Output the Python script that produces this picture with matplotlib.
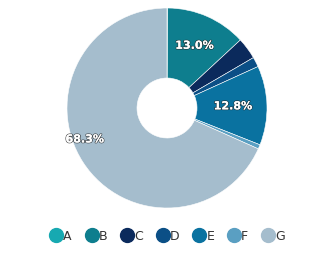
import numpy as np
import matplotlib
matplotlib.use("Agg")
import matplotlib.pyplot as plt
import matplotlib.patheffects as pe
from matplotlib.lines import Line2D

labels = ["A", "B", "C", "D", "E", "F", "G"]
values = [0.1, 13.0, 3.5, 1.6, 12.8, 0.7, 68.3]
colors = ["#17a9b1", "#0e7e8e", "#0b2a5c", "#0b4f86", "#0a72a0", "#5a9fc2", "#a5bdcd"]

fig = plt.figure(figsize=(3.35, 2.54), dpi=100)
ax = fig.add_axes([67 / 335, 46 / 254, 200 / 335, 200 / 254])
wedges, _ = ax.pie(values, colors=colors, startangle=90, counterclock=False,
                   wedgeprops=dict(width=0.7, edgecolor="white", linewidth=0.4))
ax.set_xlim(-1, 1); ax.set_ylim(-1, 1); ax.set_aspect("equal")

# percentage labels only for the big slices
lab_r = {1: 0.68, 4: 0.66, 6: 0.88}
lab_shift = {6: 12}
for i, w in enumerate(wedges):
    if values[i] < 10:
        continue
    th = np.deg2rad((w.theta1 + w.theta2) / 2 - lab_shift.get(i, 0))
    r = lab_r.get(i, 0.68)
    ax.text(r * np.cos(th), r * np.sin(th), f"{values[i]:.1f}%", ha="center", va="center",
            color="white", fontsize=8, fontweight="bold",
            path_effects=[pe.withStroke(linewidth=1.1, foreground="#2a2a2a", alpha=0.8),
                          pe.SimpleLineShadow(offset=(0.6, -0.6), alpha=0.5),
                          pe.Normal()])

handles = [Line2D([], [], marker="o", ls="", markersize=10, markerfacecolor=c,
                  markeredgecolor=c) for c in colors]
fig.legend(handles, labels, loc="center", bbox_to_anchor=(0.5, 1 - 236 / 254), ncol=7,
           frameon=False, fontsize=9, handletextpad=0.05, columnspacing=1.1,
           handlelength=1.0, labelcolor="#333333")
fig.savefig("out.png", dpi=100)
